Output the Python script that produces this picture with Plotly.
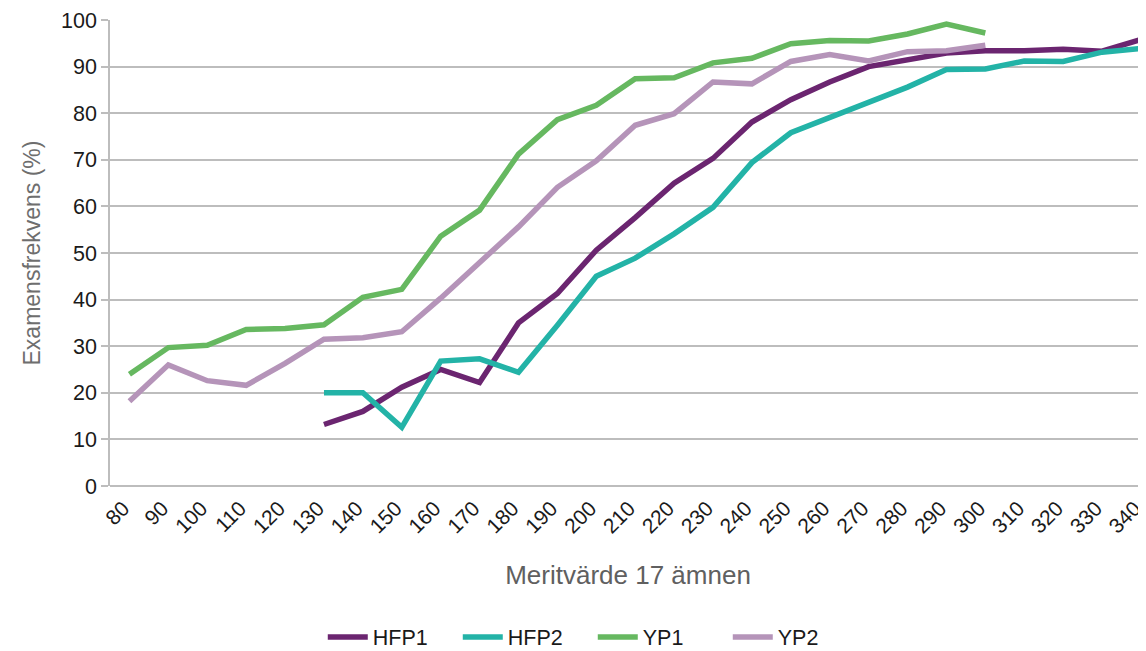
import plotly.graph_objects as go

categories = ["80", "90", "100", "110", "120", "130", "140", "150", "160", "170",
              "180", "190", "200", "210", "220", "230", "240", "250", "260", "270",
              "280", "290", "300", "310", "320", "330", "340"]

hfp1 = [None, None, None, None, None, 13.2, 16.0, 21.2, 25.0, 22.2,
        35.0, 41.3, 50.6, 57.6, 65.0, 70.3, 78.1, 82.9, 86.7, 90.0,
        91.3, 92.9, 93.4, 93.4, 93.7, 93.3, 95.8]
hfp2 = [None, None, None, None, None, 20.0, 20.0, 12.6, 26.8, 27.3,
        24.4, 34.5, 45.0, 48.9, 54.1, 59.8, 69.4, 75.8, 79.1, 82.1,
        85.6, 89.4, 89.5, 91.2, 91.1, 93.1, 93.9]
yp1 = [24.0, 29.7, 30.2, 33.6, 33.8, 34.6, 40.5, 42.2, 53.6, 59.2,
       71.2, 78.6, 81.7, 87.4, 87.6, 90.8, 91.8, 94.9, 95.6, 95.5,
       97.0, 99.1, 97.2, None, None, None, None]
yp2 = [18.2, 26.0, 22.6, 21.6, 26.3, 31.5, 31.8, 33.1, 40.3, 47.9,
       55.6, 64.1, 69.8, 77.4, 79.9, 86.7, 86.3, 91.1, 92.6, 91.2,
       93.2, 93.4, 94.6, None, None, None, None]

series = [("HFP1", hfp1, "#6B2570"),
          ("HFP2", hfp2, "#23B3A7"),
          ("YP1", yp1, "#66B860"),
          ("YP2", yp2, "#B594B9")]

fig = go.Figure()
for name, vals, color in series:
    fig.add_trace(go.Scatter(x=categories, y=vals, name=name, mode="lines",
                             line=dict(color=color, width=5.5),
                             connectgaps=False))

# page body has an 8px margin, so the figure is sized to fill the rest of the window
fig.update_layout(
    width=1138, height=643,
    margin=dict(l=102, r=0, t=12, b=165, autoexpand=False),
    paper_bgcolor="white", plot_bgcolor="white",
    font=dict(family="Liberation Sans, Arial, sans-serif", size=21, color="#1a1a1a"),
    legend=dict(orientation="h", x=0.466, xanchor="center", xref="paper",
                y=-0.324, yanchor="middle", font=dict(size=21.5, color="#1a1a1a"),
                traceorder="normal", itemwidth=40,
                entrywidth=80, entrywidthmode="pixels"),
)
fig.update_xaxes(
    type="category", range=[-0.5, 26.13], automargin=False,
    tickangle=-45, showgrid=False, showline=False, ticks="",
    tickfont=dict(size=21, color="#1a1a1a"), ticklabelshift=-6, ticklabelstandoff=5,
    title=dict(text="Meritvärde 17 ämnen", font=dict(size=26, color="#606060"), standoff=29),
)
fig.update_yaxes(
    range=[0, 100], dtick=10, automargin=False,
    showgrid=True, gridcolor="#BDBDBD", gridwidth=1.5,
    showline=True, linecolor="#BDBDBD", linewidth=1.5,
    ticks="outside", ticklen=7, tickcolor="#BDBDBD", tickwidth=1.5,
    zeroline=True, zerolinecolor="#BDBDBD", zerolinewidth=1.5,
    tickfont=dict(size=21.5, color="#1a1a1a"),
    title=dict(text="Examensfrekvens (%)", font=dict(size=23, color="#6e6e6e"), standoff=14),
)

fig.write_html("out.html")
